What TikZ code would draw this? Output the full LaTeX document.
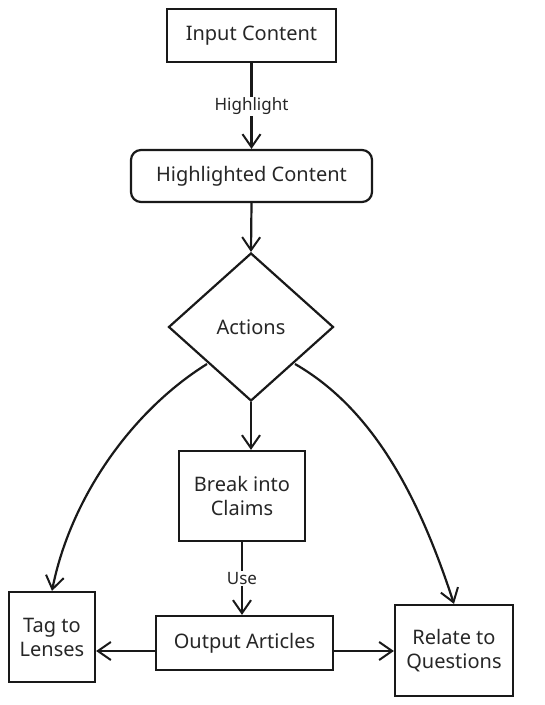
\documentclass[tikz,border=0pt]{standalone}
\usepackage{fontspec}
\setmainfont{Noto Sans}
\usetikzlibrary{arrows.meta,shapes.geometric}
\begin{document}
\begin{tikzpicture}[x=1pt,y=-1pt,
  every node/.style={font=\fontsize{20}{24}\selectfont, text=black!85},
  box/.style={draw=black!90, line width=2.2pt, inner sep=0pt, align=center},
  conn/.style={draw=black!90, line width=2.2pt, -{Straight Barb[length=13pt,width=18pt,line width=2pt]}},
  lbl/.style={fill=white, inner sep=1pt, font=\fontsize{17}{20}\selectfont}]
\useasboundingbox (0,0) rectangle (545,705);
\node[box, minimum width=169pt, minimum height=53pt] (inp) at (251.5,35.5) {Input Content};
\node[box, rounded corners=10pt, minimum width=241pt, minimum height=52pt] (hl) at (251.5,176) {Highlighted Content};
\node[box, diamond, minimum width=165pt, minimum height=148pt, aspect=1.1] (act) at (251,327) {Actions};
\node[box, minimum width=126pt, minimum height=90pt] (brk) at (242,496) {Break into\\Claims};
\node[box, minimum width=177pt, minimum height=54pt] (out) at (244.5,643) {Output Articles};
\node[box, minimum width=86pt, minimum height=90pt] (tag) at (52,637) {Tag to\\Lenses};
\node[box, minimum width=118pt, minimum height=91pt] (rel) at (454,650.5) {Relate to\\Questions};
\coordinate (al) at (207,364);
\coordinate (ar) at (295,364);
\draw[conn] (inp.south) -- node[lbl] {Highlight} (hl.north);
\draw[conn] (hl.south) -- (act.north);
\draw[conn] (act.south) -- (brk.north -| act.south);
\draw[conn] (brk.south) -- node[lbl] {Use} (out.north -| brk.south);
\draw[conn] (out.west |- 0,651) -- (tag.east |- 0,651);
\draw[conn] (out.east |- 0,651) -- (rel.west |- 0,651);
\draw[conn] (al) .. controls (130,412) and (70,500) .. (tag.north);
\draw[conn] (ar) .. controls (375,410) and (420,500) .. (rel.north);
\end{tikzpicture}
\end{document}
